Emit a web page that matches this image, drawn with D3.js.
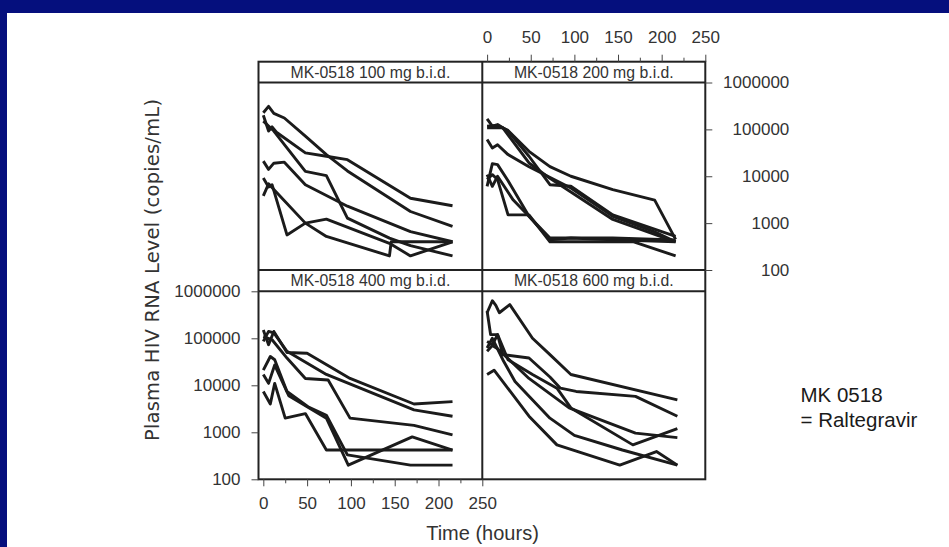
<!DOCTYPE html>
<html>
<head>
<meta charset="utf-8">
<script src="https://d3js.org/d3.v7.min.js"></script>
<style>
    body { margin: 0; background: #ffffff; }
    svg text { font-family: "Liberation Sans", Arial, sans-serif; fill: #333; }
    .strip text { font-size: 15.8px; }
    .tick text { font-size: 17px; }
    .subject { fill: none; stroke: #1b1b1b; stroke-width: 2.9px; stroke-linejoin: round; }
    .frame { fill: none; stroke: #222; stroke-width: 2px; }
    .axis line { stroke: #444; stroke-width: 1px; }
</style>
<title>HIV RNA by MK-0518 dose</title>
</head>
<body>
<svg width="949" height="547"></svg>
<script>
// one array per dose group, each subject is a list of [hours, copies/mL]
var panelTitles = ["MK-0518 100 mg b.i.d.", "MK-0518 200 mg b.i.d.",
                   "MK-0518 400 mg b.i.d.", "MK-0518 600 mg b.i.d."];

var dose100 = [
    [[0, 2.26e5], [6, 3.1e5], [12, 2.2e5], [24, 1.75e5], [48, 7.2e4], [72, 2.9e4], [96, 1.3e4], [168, 1.77e3], [216, 850]],
    [[0, 2e5], [6, 9.2e4], [10, 1.13e5], [15, 8.7e4], [48, 3.15e4], [72, 2.67e4], [96, 2.26e4], [168, 3.4e3], [216, 2.35e3]],
    [[0, 1.5e5], [12, 9.2e4], [48, 1.27e4], [72, 1.03e4], [96, 1.28e3], [144, 480], [168, 330], [216, 200]],
    [[0, 2.1e4], [6, 1.4e4], [12, 1.9e4], [24, 2e4], [48, 6.6e3], [96, 2.3e3], [168, 660], [216, 400]],
    [[0, 9.2e3], [6, 5.9e3], [10, 6.6e3], [27, 560], [48, 1e3], [72, 1.22e3], [144, 370], [168, 200], [216, 400]],
    [[0, 3.8e3], [6, 6.9e3], [12, 5.2e3], [48, 1e3], [72, 520], [144, 200], [146, 400], [216, 400]]
];

var dose200 = [
    [[0, 1.17e5], [6, 1.2e5], [12, 1.2e5], [24, 9.5e4], [48, 3.4e4], [72, 1.6e4], [96, 1e4], [144, 5.2e3], [192, 3.1e3], [216, 450]],
    [[0, 1.68e5], [6, 1.17e5], [12, 1.27e5], [24, 9.2e4], [48, 2.67e4], [72, 6.6e3], [96, 6.1e3], [144, 1.5e3], [216, 520]],
    [[0, 1.08e5], [18, 1.08e5], [48, 1.92e4], [72, 9e3], [96, 4.6e3], [144, 1.2e3], [216, 400]],
    [[0, 6.1e4], [6, 4e4], [12, 4.7e4], [24, 2.9e4], [48, 1.6e4], [96, 5.6e3], [144, 1.4e3], [192, 650], [216, 400]],
    [[0, 6.1e3], [6, 1.86e4], [12, 1.77e4], [24, 8e3], [48, 1.4e3], [72, 440], [96, 480], [144, 440], [216, 400]],
    [[0, 8.5e3], [6, 1.08e4], [12, 8.5e3], [24, 1.5e3], [48, 1.5e3], [72, 400], [168, 400], [216, 200]],
    [[0, 1.08e4], [6, 6.1e3], [12, 1e4], [30, 3.1e3], [48, 1.4e3], [72, 480], [144, 480], [216, 440]]
];

var dose400 = [
    [[0, 1.5e5], [6, 7.3e4], [12, 1.4e5], [27, 5e4], [50, 4.8e4], [99, 1.4e4], [172, 4e3], [216, 4.5e3]],
    [[0, 8.6e4], [6, 1.4e5], [12, 1.3e5], [27, 5.3e4], [72, 1.7e4], [172, 3e3], [216, 2.2e3]],
    [[0, 1.1e5], [10, 9.3e4], [27, 3.8e4], [48, 1.4e4], [74, 1.3e4], [99, 2e3], [172, 1.4e3], [216, 880]],
    [[0, 2.1e4], [8, 4.1e4], [13, 3.5e4], [27, 7.4e3], [51, 3.5e3], [72, 2.3e3], [96, 330], [168, 200], [216, 200]],
    [[0, 1.7e4], [6, 1.1e4], [13, 2.7e4], [29, 6e3], [72, 2e3], [97, 200], [170, 800], [216, 420]],
    [[0, 7.4e3], [8, 4e3], [13, 1.1e4], [25, 2e3], [48, 2.5e3], [72, 420], [216, 420]]
];

var dose600 = [
    [[0, 3.5e5], [6, 6.3e5], [10, 5e5], [14, 3.5e5], [26, 5.2e5], [52, 1e5], [72, 4.5e4], [96, 1.7e4], [218, 4.9e3]],
    [[0, 3.8e5], [4, 1.2e5], [12, 1.2e5], [18, 4.5e4], [48, 3.8e4], [72, 1.5e4], [84, 8.7e3], [102, 7.4e3], [170, 5.8e3], [218, 2.2e3]],
    [[0, 8.6e4], [6, 7.3e4], [12, 1.2e5], [24, 3.5e4], [52, 1.7e4], [80, 8.7e3], [96, 3.3e3], [167, 540], [218, 1.2e3]],
    [[0, 5.3e4], [6, 7e4], [12, 6e4], [48, 1.4e4], [94, 3.3e3], [170, 960], [218, 770]],
    [[0, 6.2e4], [6, 1e5], [18, 3.5e4], [32, 1.2e4], [72, 2e3], [100, 860], [155, 420], [218, 200]],
    [[0, 1.7e4], [8, 2.1e4], [18, 1.2e4], [48, 2.2e3], [80, 540], [152, 200], [194, 390], [218, 200]]
];

var panels = [dose100, dose200, dose400, dose600];
var xTicks = [0, 50, 100, 150, 200, 250];
var xMinorTicks = [25, 75, 125, 175, 225];
var yTicks = [100, 1000, 10000, 100000, 1000000];

var svg = d3.select("svg");

// slide frame
svg.append("rect").attr("width", 949).attr("height", 547).attr("fill", "#050f7d");
svg.append("rect").attr("x", 7).attr("y", 13).attr("width", 942).attr("height", 534).attr("fill", "#ffffff");

var cols = [258.5, 482.3, 705.3];
var rows = [{ strip: 61.7, top: 82.5, bottom: 270 },
            { strip: 270, top: 291.3, bottom: 479.3 }];

var xs = cols.slice(0, 2).map(function (c, i) {
    return d3.scaleLinear().domain([-5.5, 250]).range([c, cols[i + 1]]);
});
var ys = rows.map(function (r) {
    return d3.scaleLog().domain([100, 1e6]).range([r.bottom, r.top]);
});

panels.forEach(function (subjects, i) {
    var c = i % 2, r = Math.floor(i / 2);
    var x = xs[c], y = ys[r];
    var line = d3.line()
        .x(function (d) { return x(d[0]); })
        .y(function (d) { return y(d[1]); });

    svg.append("g").selectAll("path")
        .data(subjects)
        .enter()
        .append("path")
        .attr("class", "subject")
        .attr("d", line);

    var strip = svg.append("g").attr("class", "strip");
    strip.append("text")
        .attr("x", (cols[c] + cols[c + 1]) / 2)
        .attr("y", rows[r].strip + 15.8)
        .attr("text-anchor", "middle")
        .text(panelTitles[i]);
});

// panel borders
svg.append("rect").attr("class", "frame")
    .attr("x", cols[0]).attr("y", rows[0].strip)
    .attr("width", cols[2] - cols[0]).attr("height", rows[1].bottom - rows[0].strip);
[rows[0].top, rows[1].strip, rows[1].top].forEach(function (yy) {
    svg.append("line").attr("class", "frame")
        .attr("x1", cols[0]).attr("x2", cols[2]).attr("y1", yy).attr("y2", yy);
});
svg.append("line").attr("class", "frame")
    .attr("x1", cols[1]).attr("x2", cols[1]).attr("y1", rows[0].strip).attr("y2", rows[1].bottom);

function clean(g) {
    g.select(".domain").remove();
}

// bottom axis under the 400 mg panel
svg.append("g").attr("class", "axis")
    .attr("transform", "translate(0," + rows[1].bottom + ")")
    .call(d3.axisBottom(xs[0]).tickValues(xTicks).tickSize(7).tickSizeOuter(0).tickPadding(10.5).tickFormat(d3.format("d")))
    .call(clean);
svg.append("g").attr("class", "axis")
    .attr("transform", "translate(0," + rows[1].bottom + ")")
    .call(d3.axisBottom(xs[0]).tickValues(xMinorTicks).tickSize(4).tickSizeOuter(0).tickFormat(""))
    .call(clean);

// top axis over the 200 mg panel
svg.append("g").attr("class", "axis")
    .attr("transform", "translate(0," + rows[0].strip + ")")
    .call(d3.axisTop(xs[1]).tickValues(xTicks).tickSize(7).tickSizeOuter(0).tickPadding(12).tickFormat(d3.format("d")))
    .call(clean);
svg.append("g").attr("class", "axis")
    .attr("transform", "translate(0," + rows[0].strip + ")")
    .call(d3.axisTop(xs[1]).tickValues(xMinorTicks).tickSize(4).tickSizeOuter(0).tickFormat(""))
    .call(clean);

// left axis on the lower row
svg.append("g").attr("class", "axis")
    .attr("transform", "translate(" + cols[0] + ",0)")
    .call(d3.axisLeft(ys[1]).tickValues(yTicks).tickSize(7).tickSizeOuter(0).tickPadding(11).tickFormat(d3.format("d")))
    .call(clean);

// right axis on the upper row
svg.append("g").attr("class", "axis")
    .attr("transform", "translate(" + cols[2] + ",0)")
    .call(d3.axisRight(ys[0]).tickValues(yTicks).tickSize(7).tickSizeOuter(0).tickFormat(d3.format("d")))
    .call(clean)
    .selectAll("text")
    .attr("text-anchor", "end")
    .attr("x", 84);

// titles
svg.append("text")
    .attr("transform", "translate(159,270) rotate(-90)")
    .attr("text-anchor", "middle")
    .attr("font-size", "19.5px")
    .attr("textLength", 342)
    .attr("lengthAdjust", "spacing")
    .style("font-family", "'DejaVu Sans', sans-serif")
    .text("Plasma HIV RNA Level (copies/mL)");

svg.append("text")
    .attr("x", 482.5).attr("y", 540)
    .attr("text-anchor", "middle")
    .attr("font-size", "20px")
    .text("Time (hours)");

var note = svg.append("text").attr("font-size", "20.5px").style("fill", "#1a1a1a");
note.append("tspan").attr("x", 800.5).attr("y", 401.5).text("MK 0518");
note.append("tspan").attr("x", 800.5).attr("y", 427).text("= Raltegravir");
</script>
</body>
</html>
